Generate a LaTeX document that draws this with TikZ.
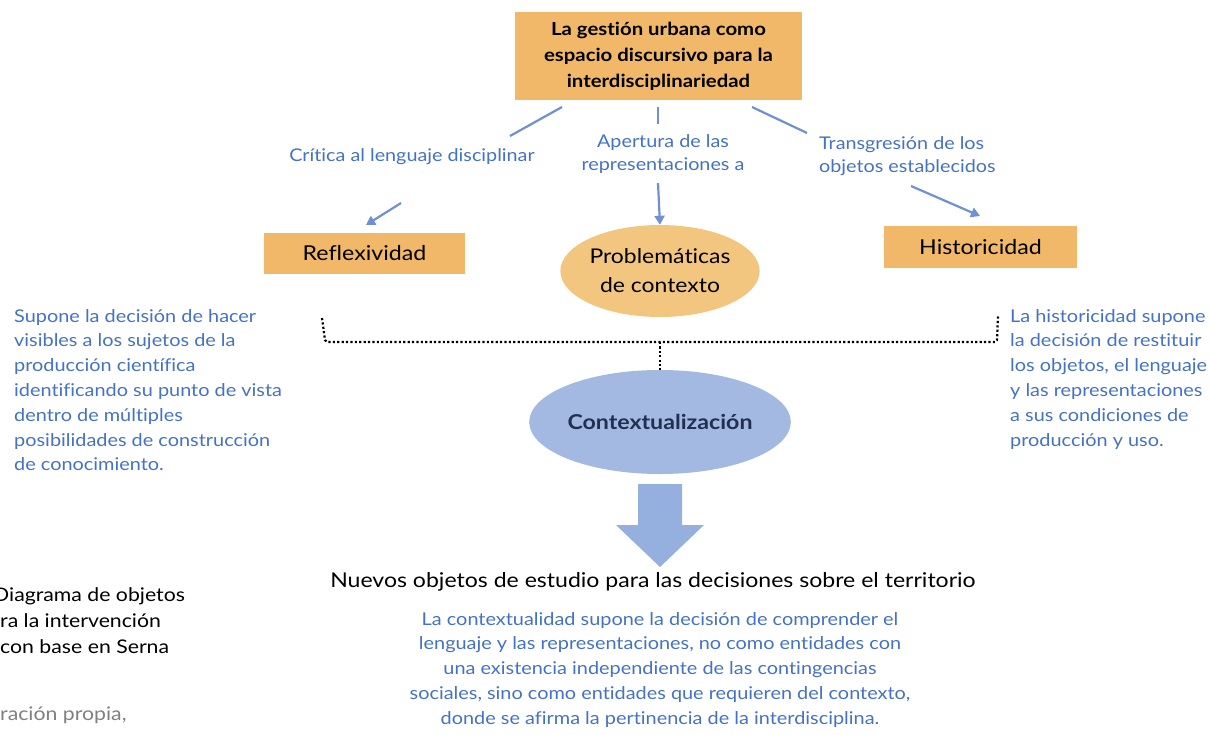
\documentclass[tikz,border=0pt]{standalone}
\usepackage{fontspec}
\setmainfont{Lato}[FakeStretch=1.13,Ligatures=CommonOff]
\usetikzlibrary{arrows.meta,shapes.geometric}
\definecolor{orng}{HTML}{F0B868}
\definecolor{orngl}{HTML}{F3C67F}
\definecolor{bluefill}{HTML}{A3B9E2}
\definecolor{bluetxt}{HTML}{4472C4}
\definecolor{bluearr}{HTML}{6F90D2}
\definecolor{navy}{HTML}{1F3050}
\definecolor{bigarrow}{HTML}{95B0DE}
\tikzset{
  box/.style={fill=orng,draw=none,inner sep=0,font=\fontsize{20.5}{24}\selectfont},
  lbl/.style={text=bluetxt,align=center,font=\fontsize{17.5}{23}\selectfont,inner sep=0},
  para/.style={text=bluetxt,font=\fontsize{17.6}{24.8}\selectfont,inner sep=0},
  conn/.style={draw=bluearr,line width=2.2},
  arr/.style={conn,-{Triangle[length=9,width=10]}},
  brk/.style={line width=2.2,dash pattern=on 2.2 off 2.2},
  captxt/.style={inner sep=0,anchor=base west,font=\fontsize{18.8}{24}\selectfont}
}
\begin{document}
\begin{tikzpicture}[x=1pt,y=-1pt]
\useasboundingbox (0,0) rectangle (1210,734);
% top box
\node[box,minimum width=287,minimum height=88,align=center,font=\bfseries\fontsize{18}{26}\selectfont] (top) at (658.5,56) {La gestión urbana como\\espacio discursivo para la\\interdisciplinariedad};
% labels
\node[lbl] (lblL) at (412,157) {Crítica al lenguaje disciplinar};
\node[lbl] (lblM) at (663,154) {Apertura de las\\representaciones a};
\node[lbl,align=left,anchor=west] (lblR) at (819,156) {Transgresión de los\\objetos establecidos};
% second level
\node[box,minimum width=201,minimum height=41] (refl) at (364.5,253.5) {Reflexividad};
\node[ellipse,fill=orngl,minimum width=194,minimum height=92,inner sep=0,align=center,font=\fontsize{20.3}{29}\selectfont] (prob) at (660,271) {Problemáticas\\de contexto};
\node[box,minimum width=193,minimum height=42] (hist) at (980.5,247) {Historicidad};
% connectors
\coordinate (tL1) at (562,107); \coordinate (tL2) at (510,136);
\coordinate (tM1) at (658,107); \coordinate (tM2) at (658,124);
\coordinate (tR1) at (752,107); \coordinate (tR2) at (807,133);
\coordinate (aL1) at (401,203); \coordinate (aM1) at (658,183); \coordinate (aR1) at (911,186);
\draw[conn] (tL1) -- (tL2);
\draw[conn] (tM1) -- (tM2);
\draw[conn] (tR1) -- (tR2);
\draw[arr] (aL1) -- (366,225);
\draw[arr] (aM1) -- (prob.north);
\draw[arr] (aR1) -- (980,216);
% contextualizacion
\node[ellipse,fill=bluefill,minimum width=254,minimum height=104,inner sep=0,outer sep=0,text=navy,font=\bfseries\fontsize{20.5}{24}\selectfont] (ctx) at (660,422) {Contextualización};
% bracket
\coordinate (bL) at (322,318); \coordinate (bR) at (998,316);
\coordinate (bM) at (660,342);
\draw[brk] (bL) -- (325,340) -- (327,342) -- (995,342) -- (997,340) -- (bR);
\draw[brk] (bM) -- (ctx.north);
% side paragraphs
\node[para,align=left,anchor=north west] (pL) at (14,309) {Supone la decisión de hacer\\visibles a los sujetos de la\\producción científica\\identificando su punto de vista\\dentro de múltiples\\posibilidades de construcción\\de conocimiento.};
\node[para,align=left,anchor=north west] (pR) at (1010,309) {La historicidad supone\\la decisión de restituir\\los objetos, el lenguaje\\y las representaciones\\a sus condiciones de\\producción y uso.};
% big arrow
\fill[bigarrow] (638,484) -- (682,484) -- (682,525) -- (704,525) -- (660,567) -- (616,525) -- (638,525) -- cycle;
\node[inner sep=0,font=\fontsize{20.4}{24}\selectfont] (nuevos) at (653,582) {Nuevos objetos de estudio para las decisiones sobre el territorio};
\node[para,align=center,anchor=north] (pB) at (660,612) {La contextualidad supone la decisión de comprender el\\lenguaje y las representaciones, no como entidades con\\una existencia independiente de las contingencias\\sociales, sino como entidades que requieren del contexto,\\donde se afirma la pertinencia de la interdisciplina.};
% caption (cut off at the left edge, as in the source)
\node[captxt] (cap1) at (-7,601) {Diagrama de objetos};
\node[captxt] (cap2) at (0,627) {ra la intervención};
\node[captxt] (cap3) at (0,653) {con base en Serna};
\node[captxt,text=gray] (cap4) at (0,720) {ración propia,};
\end{tikzpicture}
\end{document}
